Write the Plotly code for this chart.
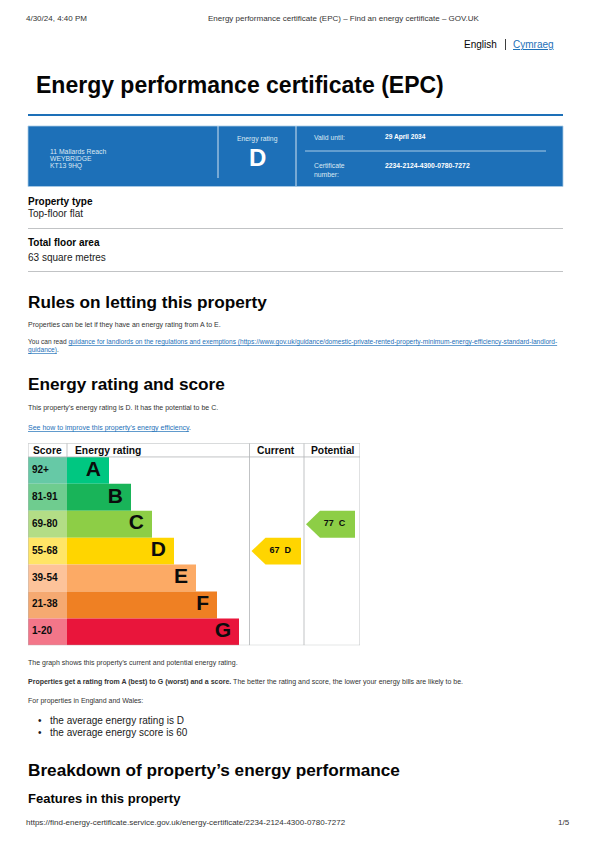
import plotly.graph_objects as go

W, H = 596, 842
FONT = "Liberation Sans"
BLUE = "#1d70b8"
GREY = "#b1b4b6"

ratings = ["A", "B", "C", "D", "E", "F", "G"]
score_ranges = ["92+", "81-91", "69-80", "55-68", "39-54", "21-38", "1-20"]
band_lengths = [42, 64, 85, 107, 129, 150, 172]
band_colours = ["#00c781", "#19b459", "#8dce46", "#ffd500", "#fcaa65", "#ef8023", "#e9153b"]
score_colours = ["#66c9a6", "#6fcc8f", "#b3dd86", "#ffe566", "#fdc39a", "#f5a971", "#f37689"]
current_score, current_rating = 67, "D"
potential_score, potential_rating = 77, "C"

# column edges of the table, measured from its left side
score_w = 39
col_current = 221.5
col_potential = 276
col_end = 332

fig = go.Figure()

rows = list(range(len(ratings)))
fig.add_trace(go.Bar(y=rows, x=[score_w] * 7, base=0, orientation="h", width=1,
                     marker=dict(color=score_colours, line_width=0), hoverinfo="skip"))
fig.add_trace(go.Bar(y=rows, x=band_lengths, base=score_w, orientation="h", width=1,
                     marker=dict(color=band_colours, line_width=0), hoverinfo="skip"))
fig.add_trace(go.Scatter(y=rows, x=[4] * 7, mode="text", text=score_ranges, textposition="middle right",
                         textfont=dict(family=FONT, size=10, color="#0b0c0c", weight="bold"),
                         hoverinfo="skip"))
fig.add_trace(go.Scatter(y=rows, x=[score_w + b - 8 for b in band_lengths], mode="text", text=ratings,
                         textposition="middle left",
                         textfont=dict(family=FONT, size=21, color="#0b0c0c", weight="bold"),
                         hoverinfo="skip"))


def add_pointer(score, rating, left, right):
    # arrow flag pointing at the row of the rating
    row = ratings.index(rating)
    colour = band_colours[row]
    tip = left + 14
    fig.add_trace(go.Scatter(x=[left, tip, right, right, tip, left],
                             y=[row, row - 0.5, row - 0.5, row + 0.5, row + 0.5, row],
                             mode="lines", fill="toself", fillcolor=colour, line_width=0, hoverinfo="skip"))
    fig.add_trace(go.Scatter(x=[(left + right) / 2 + 4], y=[row], mode="text",
                             text=[f"{score}\u00a0\u00a0{rating}"], textposition="middle center",
                             textfont=dict(family=FONT, size=9, color="#0b0c0c", weight="bold"),
                             hoverinfo="skip"))


add_pointer(current_score, current_rating, col_current + 2, col_potential - 3)
add_pointer(potential_score, potential_rating, col_potential + 2, col_end - 5)

# table frame
for x in [0, score_w, col_current, col_potential, col_end]:
    fig.add_shape(type="line", xref="x", yref="y", x0=x, x1=x, y0=-1.007, y1=6.5 if x != score_w else -0.5,
                  line=dict(color=GREY, width=0.8))
for y in [-1.007, -0.5, 6.5]:
    fig.add_shape(type="line", xref="x", yref="y", x0=0, x1=col_end, y0=y, y1=y, line=dict(color=GREY, width=0.8))

for label, x, anchor in [("Score", 2.5, "left"), ("Energy rating", 44.5, "left"),
                         ("Current", 248, "center"), ("Potential", 305, "center")]:
    fig.add_annotation(xref="x", yref="y", x=x, y=-0.755, text=f"<b>{label}</b>", showarrow=False, xanchor=anchor,
                       font=dict(family=FONT, size=10.3, color="#0b0c0c"))


def px_text(x, y, text, size=7, color="#333333", anchor="left", bold=False):
    if bold:
        text = f"<b>{text}</b>"
    fig.add_annotation(xref="paper", yref="paper", x=(x - 1) / W, y=1 - y / H, text=text, showarrow=False,
                       xanchor=anchor, yanchor="middle", borderpad=0,
                       font=dict(family=FONT, size=size, color=color))


def px_rule(x0, y0, x1, y1, color=GREY, width=0.8):
    fig.add_shape(type="line", xref="paper", yref="paper", x0=x0 / W, x1=x1 / W,
                  y0=1 - y0 / H, y1=1 - y1 / H, line=dict(color=color, width=width))


def link(text):
    return f"<span style='color:{BLUE}'><u>{text}</u></span>"


HEAD = "#050505"

# print header and footer
px_text(26, 19, "4/30/24, 4:40 PM", 8)
px_text(345, 19, "Energy performance certificate (EPC) – Find an energy certificate – GOV.UK", 8, anchor="center")
px_text(26, 822, "https://find-energy-certificate.service.gov.uk/energy-certificate/2234-2124-4300-0780-7272", 8)
px_text(558, 822, "1/5", 8)

# language switch
px_text(464, 45, "English", 10, HEAD)
px_rule(505.5, 39, 505.5, 50, "#0b0c0c")
px_text(513, 45, link("Cymraeg"), 10)

px_text(36, 85, "Energy performance certificate (EPC)", 23, HEAD, bold=True)
px_rule(28, 115, 563, 115, BLUE, 2)

# summary banner
fig.add_shape(type="rect", xref="paper", yref="paper", x0=28 / W, x1=563 / W, y0=1 - 186.5 / H, y1=1 - 126 / H,
              fillcolor=BLUE, line=dict(color="#a9cbe6", width=0.8))
px_rule(218, 126, 218, 178, "#d2e2f0", 1)
px_rule(296, 126, 296, 186, "#d2e2f0", 1)
px_rule(305, 151, 546, 151, "#a9cbe6", 1)
for y, line in [(151, "11 Mallards Reach"), (158.5, "WEYBRIDGE"), (166, "KT13 9HQ")]:
    px_text(50, y, line, 6.8, "#dbe8f3")
px_text(258, 139, "Energy rating", 6.8, "#dbe8f3", "center")
px_text(258, 157, "D", 24, "white", "center", True)
px_text(314, 137, "Valid until:", 6.8, "#dbe8f3")
px_text(385, 137, "29 April 2034", 6.6, "white", bold=True)
px_text(314, 165, "Certificate", 6.8, "#dbe8f3")
px_text(314, 174, "number:", 6.8, "#dbe8f3")
px_text(385, 165, "2234-2124-4300-0780-7272", 6.8, "white", bold=True)

# property summary
px_text(28, 201, "Property type", 10, HEAD, bold=True)
px_text(28, 214, "Top-floor flat", 10, "#1a1a1a")
px_rule(28, 228.5, 563, 228.5)
px_text(28, 242, "Total floor area", 10, HEAD, bold=True)
px_text(28, 257, "63 square metres", 10, "#1a1a1a")
px_rule(28, 271.5, 563, 271.5)

px_text(28, 302, "Rules on letting this property", 17.2, HEAD, bold=True)
px_text(28, 325, "Properties can be let if they have an energy rating from A to E.", 7)
px_text(28, 342, "You can read " + link("guidance for landlords on the regulations and exemptions "
                                       "(https://www.gov.uk/guidance/domestic-private-rented-property-minimum-energy-efficiency-standard-landlord-"), 6.6)
px_text(28, 350, link("guidance)") + ".", 6.6)

px_text(28, 384, "Energy rating and score", 17.2, HEAD, bold=True)
px_text(28, 408, "This property’s energy rating is D. It has the potential to be C.", 7)
px_text(28, 428, link("See how to improve this property’s energy efficiency") + ".", 7)

px_text(28, 663, "The graph shows this property’s current and potential energy rating.", 7)
px_text(28, 682, "<b>Properties get a rating from A (best) to G (worst) and a score.</b> The better the rating and score, "
                 "the lower your energy bills are likely to be.", 7)
px_text(28, 701, "For properties in England and Wales:", 7)
for y, line in [(720, "the average energy rating is D"), (732, "the average energy score is 60")]:
    px_text(38, y, "•", 10, "#1a1a1a")
    px_text(50, y, line, 10, "#1a1a1a")

px_text(28, 770, "Breakdown of property’s energy performance", 17.2, HEAD, bold=True)
px_text(28, 798, "Features in this property", 13, HEAD, bold=True)

fig.update_layout(
    width=W, height=H, margin=dict(l=0, r=0, t=0, b=0), paper_bgcolor="white", plot_bgcolor="white",
    showlegend=False, barmode="overlay",
    xaxis=dict(domain=[28 / W, 360 / W], range=[0, col_end], visible=False, fixedrange=True),
    yaxis=dict(domain=[1 - 645.3 / H, 1 - 443.3 / H], range=[6.5, -1.007], visible=False, fixedrange=True),
)

fig.write_html("out.html", config={"displayModeBar": False}, post_script="document.body.style.margin='0';")
